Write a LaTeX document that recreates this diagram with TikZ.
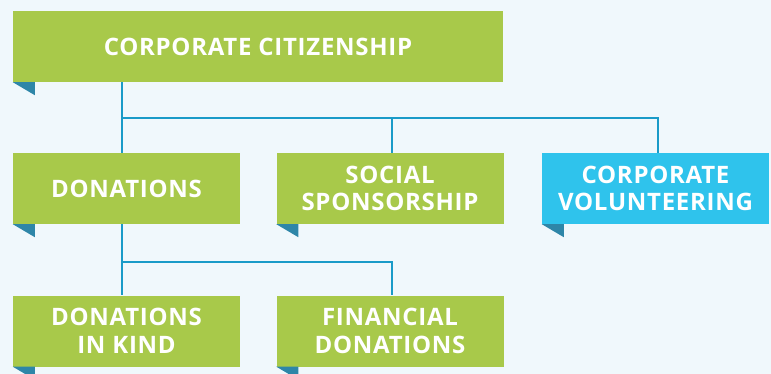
\documentclass[tikz,border=0pt]{standalone}
\usepackage{fontspec}
\newfontfamily\boxfont[LetterSpace=3]{Open Sans}
\usetikzlibrary{calc}

\definecolor{bgblue}{RGB}{240,248,252}
\definecolor{leafgreen}{RGB}{168,201,74}
\definecolor{skycyan}{RGB}{47,195,236}
\definecolor{foldteal}{RGB}{46,134,168}
\definecolor{linkblue}{RGB}{26,155,200}

\tikzset{
  card/.style={fill=leafgreen, text=white, align=center,
    minimum width=227pt, minimum height=71pt, inner sep=0pt,
    font=\boxfont\bfseries\fontsize{24}{27.5}\selectfont},
  bluecard/.style={card, fill=skycyan},
  fold/.style={fill=foldteal},
  link/.style={draw=linkblue, line width=1.6pt}
}

\begin{document}
\begin{tikzpicture}[x=1pt,y=-1pt]
			% Background
			\fill[bgblue] (0,0) rectangle (771,374);
			\useasboundingbox (0,0) rectangle (771,374);
			
			% Junction points
			\coordinate (j1) at (122,118);
			\coordinate (j2) at (122,262);
			
			% Top level
			\node[card, minimum width=490pt] (cc) at (258,46.5) {CORPORATE CITIZENSHIP};
			
			% Second row
			\node[card] (don) at (126.5,188.5) {DONATIONS};
			\node[card] (soc) at (390,188.5) {SOCIAL\\SPONSORSHIP};
			\node[bluecard] (vol) at (655.5,188.5) {CORPORATE\\VOLUNTEERING};
			
			% Third row
			\node[card] (kind) at (126.5,331) {DONATIONS\\IN KIND};
			\node[card] (fin) at (390,331) {FINANCIAL\\DONATIONS};
			
			% Ribbon folds under each card
			\foreach \n in {cc,don,soc,vol,kind,fin}
				\fill[fold] (\n.south west) -- ++(22,0) -- ++(0,13) -- cycle;
			
			% Connectors
			\draw[link] (j1 |- cc.south) -- (j1 |- don.north);
			\draw[link] (j1) -| ($(soc.north)+(2,0)$);
			\draw[link] (j1) -| ($(vol.north)+(2.5,0)$);
			\draw[link] (j2 |- don.south) -- (j2 |- kind.north);
			\draw[link] (j2) -| ($(fin.north)+(2,0)$);
		\end{tikzpicture}
\end{document}
